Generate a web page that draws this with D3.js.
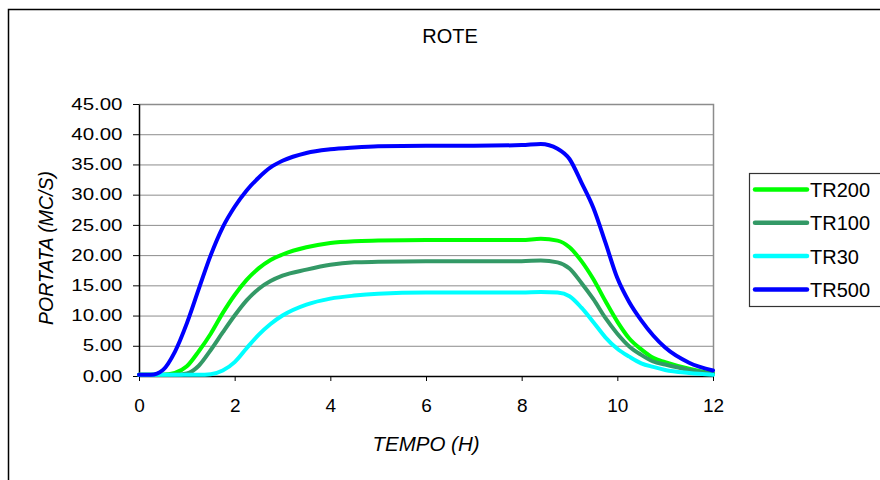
<!DOCTYPE html>
<html>
<head>
<meta charset="utf-8">
<script src="https://cdn.jsdelivr.net/npm/d3@7"></script>
<style>
  body { margin: 0; background: #fff; }
  svg { display: block; font-family: 'Liberation Sans', Arial, sans-serif; }
</style>
</head>
<body>
<div id="chart"></div>
<script>
// data
var TIME = [0, 0.25, 0.5, 0.75, 1, 1.25, 1.5, 1.75, 2, 2.25, 2.5, 2.75, 3, 3.5, 4, 4.5, 5, 6, 7, 8,
  8.4, 8.75, 9, 9.25, 9.5, 9.75, 10, 10.25, 10.5, 10.75, 11, 11.5, 12]

var TR200 = [0.2, 0.2, 0.2, 0.5, 1.6, 4.1, 7.0, 10.4, 13.4, 15.9, 17.8, 19.2, 20.1, 21.3, 22.0, 22.3, 22.4, 22.5, 22.5, 22.5,
  22.7, 22.4, 21.3, 19.0, 16.0, 12.4, 9.0, 6.2, 4.4, 3.0, 2.3, 1.2, 0.4]
var TR100 = [0.2, 0.2, 0.2, 0.2, 0.4, 1.7, 4.3, 7.2, 10.0, 12.5, 14.4, 15.7, 16.6, 17.6, 18.4, 18.8, 18.9, 19.0, 19.0, 19.0,
  19.1, 18.8, 17.8, 15.4, 12.7, 9.6, 7.0, 4.9, 3.5, 2.4, 1.9, 1.0, 0.3]
var TR30 = [0.2, 0.2, 0.2, 0.2, 0.2, 0.2, 0.3, 0.9, 2.3, 4.6, 6.8, 8.6, 10.0, 11.8, 12.8, 13.3, 13.6, 13.8, 13.8, 13.8,
  13.9, 13.8, 13.2, 11.3, 8.9, 6.4, 4.5, 3.2, 2.1, 1.5, 1.0, 0.5, 0.2]
var TR500 = [0.2, 0.2, 1.0, 4.0, 8.7, 14.4, 20.0, 24.6, 28.0, 30.7, 32.8, 34.5, 35.6, 36.9, 37.5, 37.8, 38.0, 38.1, 38.1, 38.2,
  38.4, 37.6, 35.9, 32.0, 27.8, 22.1, 16.2, 12.2, 9.2, 6.7, 4.7, 2.2, 0.9]

var seriesNames = ['TR200', 'TR100', 'TR30', 'TR500']
var seriesValues = [TR200, TR100, TR30, TR500]
var seriesColors = ['#00ff00', '#339966', '#00ffff', '#0000ff']

var xTicks = [0, 2, 4, 6, 8, 10, 12]
var yTicks = [0, 5, 10, 15, 20, 25, 30, 35, 40, 45]

var W = 880, H = 480
var plot = { left: 139, top: 104, right: 713, bottom: 376 }

var svg = d3.select('#chart').append('svg')
  .attr('width', W)
  .attr('height', H)

// outer frame
svg.append('rect')
  .attr('x', 8.5).attr('y', 9.5)
  .attr('width', 900).attr('height', 500)
  .attr('fill', '#fff')
  .attr('stroke', '#000')
  .attr('stroke-width', 1.5)

var x = d3.scaleLinear().domain([0, 12]).range([plot.left, plot.right])
var y = d3.scaleLinear().domain([0, 45]).range([plot.bottom, plot.top])

// gridlines
svg.append('g')
  .attr('transform', 'translate(' + plot.left + ',0)')
  .call(d3.axisLeft(y).tickValues(yTicks).tickSize(-(plot.right - plot.left)).tickFormat(''))
  .call(function(g) { g.select('.domain').remove() })
  .selectAll('line')
  .attr('stroke', '#8c8c8c')

// plot border (top, right)
svg.append('path')
  .attr('d', 'M' + plot.left + ',' + (plot.top + 0.5) + 'H' + (plot.right + 0.5) + 'V' + plot.bottom)
  .attr('fill', 'none')
  .attr('stroke', '#8c8c8c')
  .attr('stroke-width', 1.5)

// y axis
var yAxis = svg.append('g')
  .attr('transform', 'translate(' + plot.left + ',0)')
  .call(d3.axisLeft(y).tickValues(yTicks).tickSize(6).tickSizeOuter(0).tickFormat(d3.format('.2f')))
yAxis.select('.domain').attr('stroke', '#000').attr('stroke-width', 1.5)
yAxis.selectAll('.tick line').attr('stroke', '#000')
yAxis.selectAll('.tick text')
  .attr('x', 0)
  .attr('transform', 'translate(-16.5,0) scale(1.28,1)')
  .attr('fill', '#000')
  .style('font-size', '16px')
  .style('font-family', "'Liberation Sans', Arial, sans-serif")

// x axis
var xAxis = svg.append('g')
  .attr('transform', 'translate(0,' + plot.bottom + ')')
  .call(d3.axisBottom(x).tickValues(xTicks).tickSize(5).tickSizeOuter(0).tickPadding(18))
xAxis.select('.domain').attr('stroke', '#000').attr('stroke-width', 1.5)
xAxis.selectAll('.tick line').attr('stroke', '#000')
xAxis.selectAll('.tick text')
  .attr('fill', '#000')
  .style('font-size', '19px')
  .style('font-family', "'Liberation Sans', Arial, sans-serif")

// series
var line = d3.line()
  .x(function(d) { return x(d[0]) })
  .y(function(d) { return y(d[1]) })
  .curve(d3.curveMonotoneX)

for (var i = 0; i < seriesValues.length; i++) {
  var pts = TIME.map(function(t, j) { return [t, seriesValues[i][j]] })
  svg.append('path')
    .datum(pts)
    .attr('d', line)
    .attr('fill', 'none')
    .attr('stroke', seriesColors[i])
    .attr('stroke-width', 4)
    .attr('stroke-linejoin', 'round')
    .attr('stroke-linecap', 'round')
}

// titles
svg.append('text')
  .attr('x', 450).attr('y', 42.5)
  .attr('text-anchor', 'middle')
  .style('font-size', '20px')
  .text('ROTE')

svg.append('text')
  .attr('x', 426).attr('y', 451)
  .attr('text-anchor', 'middle')
  .style('font-size', '20.5px')
  .style('font-style', 'italic')
  .text('TEMPO (H)')

svg.append('text')
  .attr('transform', 'translate(53,248) rotate(-90)')
  .attr('text-anchor', 'middle')
  .style('font-size', '19.5px')
  .style('font-style', 'italic')
  .text('PORTATA (MC/S)')

// legend
var legend = svg.append('g')
legend.append('rect')
  .attr('x', 749.5).attr('y', 173.5)
  .attr('width', 200).attr('height', 133)
  .attr('fill', '#fff')
  .attr('stroke', '#333')
  .attr('stroke-width', 1.2)

var item = legend.selectAll('.item')
  .data(seriesNames)
  .enter()
  .append('g')
  .attr('transform', function(d, i) { return 'translate(0,' + (189.5 + i * 33.3) + ')' })

item.append('line')
  .attr('x1', 755).attr('x2', 807)
  .attr('stroke', function(d, i) { return seriesColors[i] })
  .attr('stroke-width', 4.5)
  .attr('stroke-linecap', 'round')

item.append('text')
  .attr('x', 810)
  .attr('y', 7.5)
  .style('font-size', '20px')
  .text(function(d) { return d })
</script>
</body>
</html>
